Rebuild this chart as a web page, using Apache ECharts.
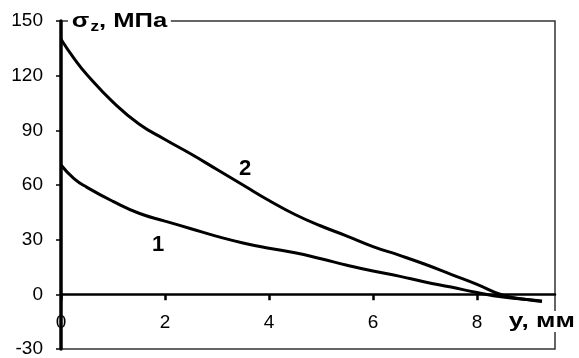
<!DOCTYPE html>
<html>
<head>
<meta charset="utf-8">
<script src="https://cdn.jsdelivr.net/npm/echarts@6/dist/echarts.min.js"></script>
<style>
  html, body { margin: 0; padding: 0; background: #fff; }
  #chart { width: 579px; height: 358px; }
</style>
</head>
<body>
<div id="chart"></div>
<script>
// Depth coordinate y, mm
const depth = [0, 0.25, 0.5, 1, 1.5, 2, 2.5, 3, 3.5, 4, 4.5, 5, 5.5, 6, 6.5, 7, 7.5, 8, 8.5, 9, 9.25];
// Stress sigma_z, MPa — curve 1
const sigma1 = [71, 63.5, 58.7, 51, 44.5, 40.2, 36, 31.8, 28.2, 25.3, 22.8, 19.5, 16, 12.8, 10, 6.8, 4, 1, -1.5, -3, -3.7];
// Stress sigma_z, MPa — curve 2
const sigma2 = [140, 129.5, 120.5, 105.5, 93.5, 85, 77, 68.5, 60, 51.5, 43.8, 37.5, 32, 26.2, 21.5, 16.5, 11, 5.5, -0.5, -3, -4];
// Curve number labels, placed in data coordinates
const curveLabels = [
  { text: '1', at: [1.87, 27.3] },
  { text: '2', at: [3.54, 68.7] }
];
const yTicks = { min: -30, max: 150, step: 30 };
const xTicks = { min: 0, max: 9.5, step: 2 };

const FONT = '"Liberation Sans", Arial, sans-serif';

const chart = echarts.init(document.getElementById('chart'), null, { renderer: 'canvas' });

function toPairs(xs, ys) {
  return xs.map((x, i) => [x, ys[i]]);
}

function curveSeries(name, values, label) {
  return {
    type: 'line', name: name,
    data: toPairs(depth, values),
    smooth: 0.5, symbol: 'none',
    lineStyle: { color: '#000', width: 3 },
    z: 3,
    markPoint: {
      symbol: 'circle', symbolSize: 0,
      label: { show: true, formatter: label.text, fontFamily: FONT, fontSize: 22, fontWeight: 'bold', color: '#000', position: 'inside' },
      data: [{ coord: label.at }]
    }
  };
}

const option = {
  animation: false,
  backgroundColor: '#fff',
  grid: {
    left: 61, right: 24, top: 21, bottom: 9,
    containLabel: false,
    outerBoundsMode: 'none',
    show: true, borderColor: '#333', borderWidth: 1.5
  },
  xAxis: {
    type: 'value',
    min: xTicks.min, max: xTicks.max, interval: xTicks.step,
    axisLine: { onZero: true, lineStyle: { color: '#000', width: 2.5 } },
    axisTick: { length: 6, lineStyle: { color: '#000', width: 2.5 } },
    // labels sit just under the zero line, above the bottom frame
    axisLabel: { margin: -36, fontSize: 19, color: '#000', fontFamily: FONT, showMaxLabel: false },
    splitLine: { show: false }
  },
  yAxis: {
    type: 'value',
    min: yTicks.min, max: yTicks.max, interval: yTicks.step,
    axisLine: { show: true, onZero: false, lineStyle: { color: '#000', width: 3.5 } },
    axisTick: { show: true, length: 5, lineStyle: { color: '#000', width: 1.5 } },
    axisLabel: { margin: 18, fontSize: 19, color: '#000', fontFamily: FONT },
    splitLine: { show: false }
  },
  graphic: [
    {
      // axis title of sigma_z, breaking the top frame line
      type: 'text',
      x: 68, y: 9,
      scaleX: 1.22,
      z: 100,
      style: {
        text: '{a|σ}{b|z}{a|, МПа}',
        backgroundColor: '#fff',
        padding: [0, 3, 0, 3],
        rich: {
          a: { fontFamily: FONT, fontSize: 21, fontWeight: 'bold', fill: '#000', lineHeight: 25 },
          b: { fontFamily: FONT, fontSize: 14, fontWeight: 'bold', fill: '#000', lineHeight: 14, verticalAlign: 'bottom', padding: [0, 0, 0, 1] }
        }
      }
    },
    {
      type: 'text',
      x: 505, y: 311,
      scaleX: 1.25,
      z: 100,
      style: {
        text: 'y, мм',
        font: 'bold 21px ' + FONT,
        fill: '#000',
        backgroundColor: '#fff',
        padding: [0, 0, 0, 3]
      }
    }
  ],
  series: [
    curveSeries('1', sigma1, curveLabels[0]),
    curveSeries('2', sigma2, curveLabels[1])
  ]
};

chart.setOption(option);
</script>
</body>
</html>
